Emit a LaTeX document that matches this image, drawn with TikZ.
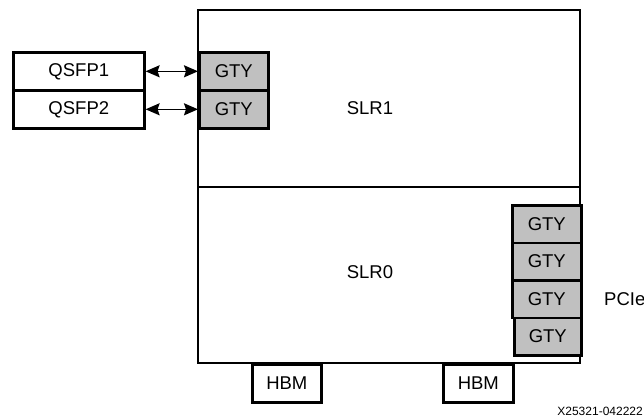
\documentclass[tikz,border=0pt]{standalone}
\usepackage{fontspec}
\setmainfont{Liberation Sans}
\usetikzlibrary{arrows.meta}
\definecolor{gtygray}{HTML}{C0C0C0}
\begin{document}
\begin{tikzpicture}[x=1pt,y=-1pt,
  every node/.style={font=\fontsize{18.5}{20}\selectfont},
  box/.style={draw=black,line width=2.6pt,fill=white},
  gty/.style={draw=black,line width=2.6pt,fill=gtygray},
  link/.style={line width=1.6pt,{Stealth[length=14pt,width=12pt,inset=2pt]}-{Stealth[length=14pt,width=12pt,inset=2pt]}}]
\useasboundingbox (0,0) rectangle (644,418);
% main FPGA
\draw[box] (198,10) rectangle (580,363);
\draw[line width=2.6pt] (198,187) -- (580,187);
\node (slr1) at (370,108) {SLR1};
\node (slr0) at (370,272) {SLR0};
% left GTYs
\node[gty,minimum width=69pt,minimum height=38pt,anchor=north west,inner sep=0pt] (g1) at (198,51) {GTY};
\node[gty,minimum width=69pt,minimum height=38pt,anchor=north west,inner sep=0pt] (g2) at (198,89) {GTY};
% QSFP
\node[box,minimum width=131pt,minimum height=38pt,anchor=north west,inner sep=0pt] (q1) at (12,51) {QSFP1};
\node[box,minimum width=131pt,minimum height=38pt,anchor=north west,inner sep=0pt] (q2) at (12,89) {QSFP2};
\draw[link] (q1.east) -- (g1.west);
\draw[link] (q2.east) -- (g2.west);
% right GTYs
\node[gty,minimum width=69pt,minimum height=37.5pt,anchor=north west,inner sep=0pt] (r1) at (511,204) {GTY};
\node[gty,minimum width=69pt,minimum height=37.5pt,anchor=north west,inner sep=0pt] (r2) at (511,241.5) {GTY};
\node[gty,minimum width=69pt,minimum height=37.5pt,anchor=north west,inner sep=0pt] (r3) at (511,279) {GTY};
\node[gty,minimum width=67pt,minimum height=37.5pt,anchor=north west,inner sep=0pt] (r4) at (513,316.5) {GTY};
\node[anchor=west,inner sep=0pt] (pcie) at (604,299) {PCIe};
% HBM
\node[box,minimum width=69pt,minimum height=38pt,anchor=north west,inner sep=0pt] (h1) at (251,363) {HBM};
\node[box,minimum width=70pt,minimum height=38pt,anchor=north west,inner sep=0pt] (h2) at (442,363) {HBM};
\node[anchor=east,inner sep=0pt,font=\fontsize{12}{14}\selectfont] (id) at (643,411) {X25321-042222};
\end{tikzpicture}
\end{document}
